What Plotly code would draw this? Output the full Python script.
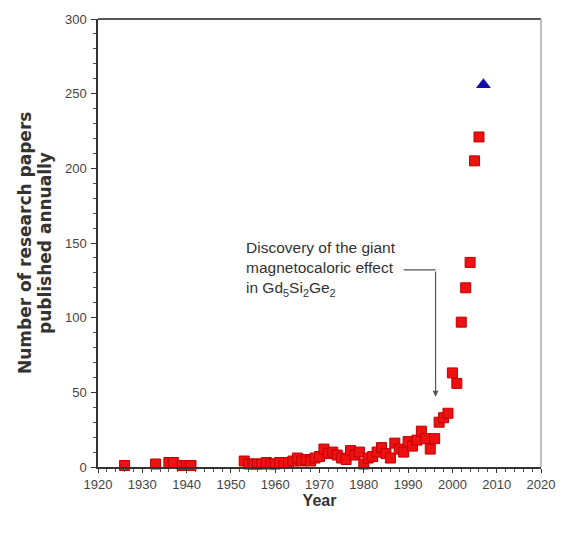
import plotly.graph_objects as go

# Annual number of research papers on the magnetocaloric effect
years = [1926, 1933, 1936, 1937, 1939, 1940, 1941,
         1953, 1954, 1955, 1956, 1957, 1958, 1959, 1960, 1961, 1962,
         1963, 1964, 1965, 1966, 1967, 1968, 1969, 1970, 1971, 1972,
         1973, 1974, 1975, 1976, 1977, 1978, 1979, 1980, 1981, 1982,
         1983, 1984, 1985, 1986, 1987, 1988, 1989, 1990, 1991, 1992,
         1993, 1994, 1995, 1996, 1997, 1998, 1999, 2000, 2001, 2002,
         2003, 2004, 2005, 2006]
papers = [1, 2, 3, 3, 1, 1, 1,
          4, 2, 2, 2, 2, 3, 2, 2, 3, 3,
          3, 4, 6, 4, 5, 4, 6, 7, 12, 9,
          10, 8, 6, 5, 11, 8, 10, 2, 6, 7,
          10, 13, 9, 6, 16, 12, 10, 17, 14, 18,
          24, 19, 12, 19, 30, 33, 36, 63, 56, 97,
          120, 137, 205, 221]

# Partial-year count shown separately
latest_year = [2007]
latest_papers = [256]

x_ticks = [1920, 1930, 1940, 1950, 1960, 1970, 1980, 1990, 2000, 2010, 2020]
y_ticks = [0, 50, 100, 150, 200, 250, 300]

# Arrow marking the Gd5Si2Ge2 discovery
arrow_year = 1996.2
arrow_top = 132
arrow_tip = 47
elbow_start = 1989.0

fig = go.Figure()

fig.add_trace(go.Scatter(
    x=years, y=papers, mode="markers",
    marker=dict(symbol="square", size=10, color="#ee1111",
                line=dict(color="#c00000", width=1)),
    cliponaxis=False, showlegend=False,
))
fig.add_trace(go.Scatter(
    x=latest_year, y=latest_papers, mode="markers",
    marker=dict(symbol="triangle-up", size=13, color="#1010b0",
                line=dict(width=0)),
    cliponaxis=False, showlegend=False,
))

tick_font = dict(family="Liberation Sans, Arial, sans-serif", size=13, color="#444444")

fig.update_xaxes(
    range=[1920, 2020], tickvals=x_ticks, ticktext=[str(v) for v in x_ticks],
    showgrid=False, zeroline=False, showline=True, linecolor="#333333", linewidth=1.5,
    ticks="outside", ticklen=4, tickcolor="#333333",
    minor=dict(dtick=2, ticks="outside", ticklen=3, tickcolor="#555555"),
    tickfont=tick_font, ticklabelstandoff=1,
    title=dict(text="<b>Year</b>", standoff=3,
               font=dict(family="Liberation Sans, Arial, sans-serif", size=16, color="#333333")),
)
fig.update_yaxes(
    range=[0, 300], tickvals=y_ticks, ticktext=[str(v) for v in y_ticks],
    showgrid=False, zeroline=False, showline=True, linecolor="#333333", linewidth=1.5,
    ticks="outside", ticklen=5, tickcolor="#333333",
    minor=dict(dtick=10, ticks="outside", ticklen=3, tickcolor="#555555"),
    tickfont=tick_font, ticklabelstandoff=2,
)

# Top and right frame lines
fig.add_shape(type="line", xref="paper", yref="paper", x0=0, x1=1, y0=1, y1=1,
              line=dict(color="#555555", width=2))
fig.add_shape(type="line", xref="paper", yref="paper", x0=1, x1=1, y0=0, y1=1,
              line=dict(color="#aaaaaa", width=1.5))

# Elbow connector: horizontal segment then downward arrow
fig.add_shape(type="line", xref="x", yref="y", x0=elbow_start, x1=arrow_year,
              y0=arrow_top, y1=arrow_top, line=dict(color="#555555", width=1.2))
fig.add_annotation(
    x=arrow_year, y=arrow_tip, ax=arrow_year, ay=arrow_top,
    xref="x", yref="y", axref="x", ayref="y", text="",
    showarrow=True, arrowhead=2, arrowsize=1, arrowwidth=1.2, arrowcolor="#555555",
)
fig.add_annotation(
    x=1953.0, y=154, xref="x", yref="y", xanchor="left", yanchor="top", align="left",
    showarrow=False,
    text="Discovery of the giant<br>magnetocaloric effect<br>in Gd<sub>5</sub>Si<sub>2</sub>Ge<sub>2</sub>",
    font=dict(family="Liberation Sans, Arial, sans-serif", size=15.5, color="#333333"),
)

# Y-axis title, one annotation per line
title_font = dict(family="DejaVu Sans, sans-serif", size=17, color="#333333", weight="bold")
for line_text, shift in (("Number of research papers", -73), ("published annually", -53)):
    fig.add_annotation(
        x=0, y=0.5, xref="paper", yref="paper", xanchor="center", yanchor="middle",
        xshift=shift, textangle=-90, showarrow=False,
        text=line_text, font=title_font,
    )

fig.update_layout(
    width=567, height=536,
    margin=dict(l=98, r=19, t=19, b=69),
    paper_bgcolor="white", plot_bgcolor="white",
)

fig.write_html("out.html")
